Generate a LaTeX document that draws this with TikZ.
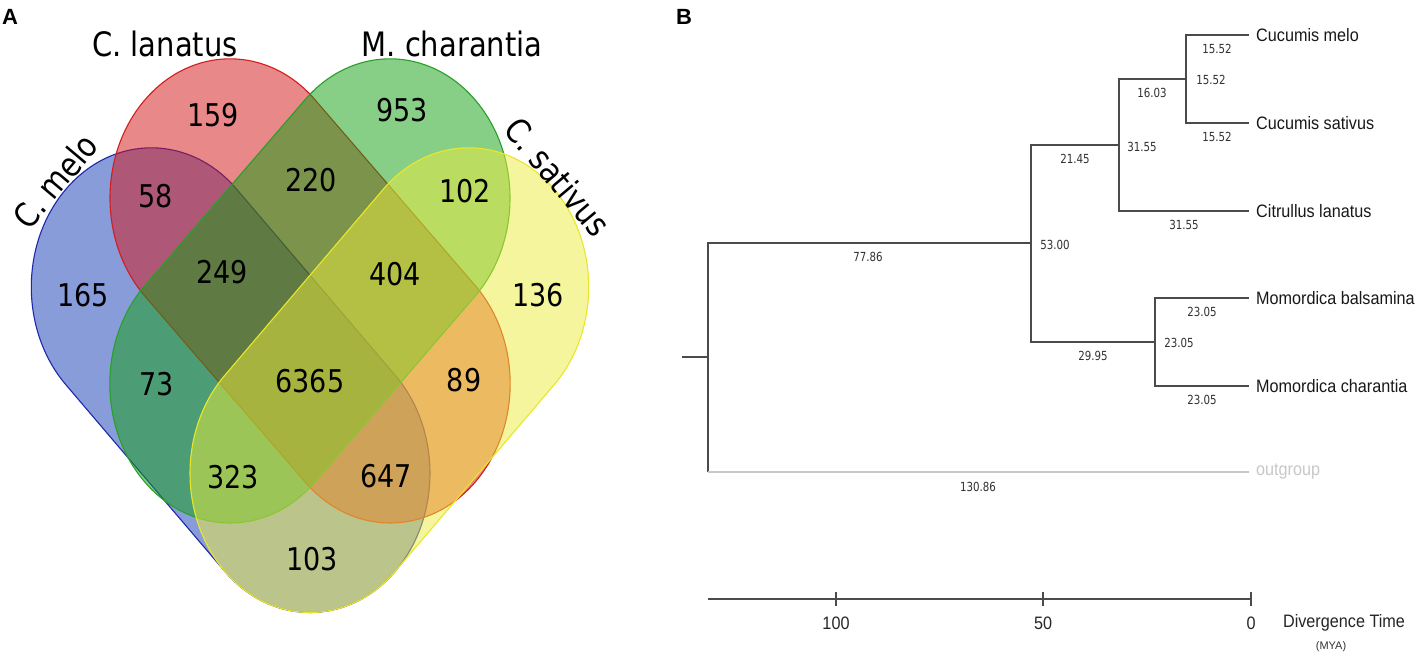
\documentclass[tikz,border=0pt]{standalone}
\usepackage{fontspec}
\setmainfont{DejaVu Sans}
\newfontfamily\arialf{Liberation Sans}
\usepackage{graphicx}
\definecolor{vblue}{RGB}{21,59,183}
\definecolor{vred}{RGB}{213,19,19}
\definecolor{vgreen}{RGB}{17,159,17}
\definecolor{vyellow}{RGB}{237,237,60}
\definecolor{lblue}{RGB}{30,40,170}
\definecolor{lred}{RGB}{210,30,30}
\definecolor{lgreen}{RGB}{40,160,40}
\definecolor{lyellow}{RGB}{232,232,40}
\definecolor{treegray}{RGB}{75,75,75}
\definecolor{numgray}{RGB}{50,50,50}
\definecolor{outgray}{RGB}{200,200,200}
\newcommand\vs[1]{\scalebox{1}[1.16]{#1}}
\newcommand\cn[1]{\scalebox{0.82}[1]{#1}}
\newcommand\tn[1]{\scalebox{0.9}[1]{#1}}
\newcommand\capsuleshape[5]{%
  \begin{scope}[shift={(#2,#3)},rotate=#4]
    \path[#1] (0,120) -- (#5,120) arc[start angle=90,end angle=-90,radius=120]
      -- (0,-120) arc[start angle=270,end angle=90,radius=120] -- cycle;
  \end{scope}}
\tikzset{
  vset/.style={fill opacity=0.5, line width=1.1pt},
  vnum/.style={font=\fontsize{27}{27}\selectfont, inner sep=0pt, text=black},
  vlab/.style={font=\fontsize{29}{29}\selectfont, inner sep=0pt, text=black},
  branch/.style={draw=treegray, line width=1.5pt},
  blen/.style={font=\fontsize{12.5}{12.5}\selectfont, text=numgray, inner sep=0pt},
  taxon/.style={font=\arialf\fontsize{18}{18}\selectfont, anchor=west, inner sep=0pt, text=black!90},
  axlab/.style={font=\arialf\fontsize{18}{18}\selectfont, inner sep=0pt, text=black!85},
  panel/.style={font=\arialf\bfseries\fontsize{22}{22}\selectfont, inner sep=0pt},
}
\begin{document}
\begin{tikzpicture}[x=1pt,y=-1pt]
\useasboundingbox (0,0) rectangle (1426,662);
\fill[white] (0,0) rectangle (1426,662);

% ---------------- Panel A: Venn ----------------
\node[panel] (pA) at (10,17) {A};
\begin{scope}[yscale=1.16]
  \capsuleshape{vset, fill=vblue, draw=lblue}{151.3}{247.4}{-45.35}{225.8}
  \capsuleshape{vset, fill=vred, draw=lred}{230}{170.7}{-45}{226.5}
  \capsuleshape{vset, fill=vgreen, draw=lgreen}{390}{170.7}{-135}{226.5}
  \capsuleshape{vset, fill=vyellow, draw=lyellow}{468.7}{247.4}{-134.65}{225.8}
\end{scope}

\node[vlab] (lmelo) at (55,181) [rotate=50] {\vs{C. melo}};
\node[vlab] (llan) at (165,44) {\vs{C. lanatus}};
\node[vlab] (lchar) at (452,44) {\vs{M. charantia}};
\begin{scope}
  \clip (0,0) rectangle (606,662);
  \node[vlab] (lsat) at (558,177) [rotate=-50] {\vs{C. sativus}};
\end{scope}

\node[vnum] (n159) at (213,115) {\vs{159}};
\node[vnum] (n953) at (402,110) {\vs{953}};
\node[vnum] (n58) at (156,196) {\vs{58}};
\node[vnum] (n220) at (311,180) {\vs{220}};
\node[vnum] (n102) at (465,191) {\vs{102}};
\node[vnum] (n165) at (83,295) {\vs{165}};
\node[vnum] (n249) at (222,272) {\vs{249}};
\node[vnum] (n404) at (395,274) {\vs{404}};
\node[vnum] (n136) at (538,295) {\vs{136}};
\node[vnum] (n73) at (157,384) {\vs{73}};
\node[vnum] (n6365) at (310,381) {\vs{6365}};
\node[vnum] (n89) at (464,380) {\vs{89}};
\node[vnum] (n323) at (233,477) {\vs{323}};
\node[vnum] (n647) at (386,476) {\vs{647}};
\node[vnum] (n103) at (312,559) {\vs{103}};

% ---------------- Panel B: tree ----------------
\node[panel] (pB) at (684,17) {B};

\coordinate (stub) at (682,357);
\coordinate (root) at (708,357);
\coordinate (n53) at (1031,243);
\coordinate (n31) at (1119,145);
\coordinate (n15) at (1186,79);
\coordinate (n23) at (1155,342);
\coordinate (tmelo) at (1249,35);
\coordinate (tsat) at (1249,123);
\coordinate (tlan) at (1249,211);
\coordinate (tbal) at (1249,298);
\coordinate (tcha) at (1249,386);
\coordinate (tout) at (1249,472);

\draw[branch] (stub) -- (root);
\draw[branch] (root) |- (n53);
\draw[branch] (root) -- (root |- tout);
\draw[draw=outgray, line width=1.5pt] (root |- tout) -- (tout);
\draw[branch] (n53) |- (n31);
\draw[branch] (n53) |- (n23);
\draw[branch] (n31) |- (n15);
\draw[branch] (n31) |- (tlan);
\draw[branch] (n15) |- (tmelo);
\draw[branch] (n15) |- (tsat);
\draw[branch] (n23) |- (tbal);
\draw[branch] (n23) |- (tcha);

\node[taxon] (xmelo) at (1256,35) {\tn{Cucumis melo}};
\node[taxon] (xsat) at (1256,123) {\tn{Cucumis sativus}};
\node[taxon] (xlan) at (1256,211) {\tn{Citrullus lanatus}};
\node[taxon] (xbal) at (1256,298) {\tn{Momordica balsamina}};
\node[taxon] (xcha) at (1256,386) {\tn{Momordica charantia}};
\node[taxon, text=outgray] (xout) at (1256,472) {\tn{outgroup}};

\node[blen] (b1) at (1217,49) {\cn{15.52}};
\node[blen] (b2) at (1211,80) {\cn{15.52}};
\node[blen] (b3) at (1152,93) {\cn{16.03}};
\node[blen] (b4) at (1217,137) {\cn{15.52}};
\node[blen] (b5) at (1142,147) {\cn{31.55}};
\node[blen] (b6) at (1075,159) {\cn{21.45}};
\node[blen] (b7) at (1184,225) {\cn{31.55}};
\node[blen] (b8) at (1055,245) {\cn{53.00}};
\node[blen] (b9) at (868,257) {\cn{77.86}};
\node[blen] (b10) at (1202,312) {\cn{23.05}};
\node[blen] (b11) at (1179,343) {\cn{23.05}};
\node[blen] (b12) at (1093,356) {\cn{29.95}};
\node[blen] (b13) at (1202,400) {\cn{23.05}};
\node[blen] (b14) at (978,487) {\cn{130.86}};

% axis
\coordinate (ax0) at (708,599);
\coordinate (ax1) at (1251,599);
\coordinate (k100) at (836,599);
\coordinate (k50) at (1043,599);
\draw[branch] (ax0) -- (ax1);
\foreach \k in {k100,k50,ax1} \draw[branch] ([yshift=7pt]\k) -- ([yshift=-7pt]\k);
\node[axlab] (t100) at (836,623) {\tn{100}};
\node[axlab] (t50) at (1043,623) {\tn{50}};
\node[axlab] (t0) at (1251,623) {\tn{0}};
\node[axlab] (tdiv) at (1344,623) {\tn{Divergence Time}};
\node[font=\arialf\fontsize{11}{11}\selectfont, inner sep=0pt, text=black!80] (tmya) at (1331,647) {(MYA)};
\end{tikzpicture}
\end{document}
